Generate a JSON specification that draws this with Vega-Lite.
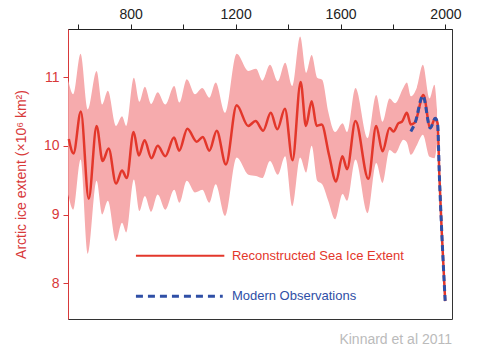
{
  "$schema": "https://vega.github.io/schema/vega-lite/v6.json",
  "autosize": {"type": "none"},
  "width": 384,
  "height": 290,
  "padding": {"left": 68, "top": 29, "right": 38, "bottom": 40},
  "background": "white",
  "config": {
    "view": {"stroke": "#333333", "strokeWidth": 1},
    "font": "Liberation Sans"
  },
  "datasets": {
    "band": [
      {"year": 562, "lo": 9.29, "hi": 10.95},
      {"year": 581, "lo": 9.07, "hi": 10.75},
      {"year": 609, "lo": 9.80, "hi": 11.34},
      {"year": 636, "lo": 8.43, "hi": 10.53},
      {"year": 670, "lo": 9.49, "hi": 11.09},
      {"year": 691, "lo": 9.00, "hi": 10.60},
      {"year": 713, "lo": 9.20, "hi": 10.80},
      {"year": 744, "lo": 8.61, "hi": 10.29},
      {"year": 767, "lo": 8.88, "hi": 10.43},
      {"year": 783, "lo": 8.74, "hi": 10.29},
      {"year": 812, "lo": 9.51, "hi": 10.99},
      {"year": 833, "lo": 9.05, "hi": 10.64},
      {"year": 854, "lo": 9.27, "hi": 10.86},
      {"year": 878, "lo": 9.04, "hi": 10.61},
      {"year": 903, "lo": 9.29, "hi": 10.78},
      {"year": 932, "lo": 9.07, "hi": 10.60},
      {"year": 966, "lo": 9.36, "hi": 10.87},
      {"year": 986, "lo": 9.17, "hi": 10.63},
      {"year": 1014, "lo": 9.49, "hi": 10.97},
      {"year": 1045, "lo": 9.32, "hi": 10.75},
      {"year": 1073, "lo": 9.36, "hi": 10.84},
      {"year": 1100, "lo": 9.17, "hi": 10.70},
      {"year": 1124, "lo": 9.44, "hi": 10.92},
      {"year": 1160, "lo": 8.98, "hi": 10.48},
      {"year": 1204, "lo": 9.83, "hi": 11.34},
      {"year": 1249, "lo": 9.58, "hi": 11.09},
      {"year": 1278, "lo": 9.56, "hi": 11.12},
      {"year": 1302, "lo": 9.53, "hi": 10.95},
      {"year": 1331, "lo": 9.78, "hi": 11.18},
      {"year": 1361, "lo": 9.58, "hi": 10.94},
      {"year": 1389, "lo": 9.85, "hi": 11.21},
      {"year": 1416, "lo": 9.12, "hi": 10.87},
      {"year": 1446, "lo": 9.83, "hi": 11.59},
      {"year": 1469, "lo": 9.61, "hi": 11.06},
      {"year": 1490, "lo": 10.0, "hi": 11.32},
      {"year": 1511, "lo": 9.49, "hi": 10.99},
      {"year": 1530, "lo": 9.44, "hi": 10.96},
      {"year": 1553, "lo": 9.20, "hi": 10.50},
      {"year": 1579, "lo": 8.93, "hi": 10.20},
      {"year": 1608, "lo": 9.30, "hi": 10.33},
      {"year": 1625, "lo": 9.20, "hi": 10.20},
      {"year": 1657, "lo": 9.80, "hi": 10.84},
      {"year": 1703, "lo": 9.02, "hi": 10.11},
      {"year": 1736, "lo": 9.75, "hi": 10.74},
      {"year": 1760, "lo": 9.46, "hi": 10.35},
      {"year": 1787, "lo": 9.94, "hi": 10.69},
      {"year": 1808, "lo": 9.89, "hi": 10.62},
      {"year": 1840, "lo": 10.09, "hi": 10.85},
      {"year": 1853, "lo": 10.05, "hi": 10.92},
      {"year": 1868, "lo": 9.87, "hi": 10.72},
      {"year": 1891, "lo": 10.01, "hi": 10.85},
      {"year": 1914, "lo": 10.16, "hi": 11.18},
      {"year": 1939, "lo": 9.84, "hi": 10.69},
      {"year": 1958, "lo": 9.82, "hi": 10.89},
      {"year": 1968, "lo": 10.04, "hi": 10.52}
    ],
    "recon": [
      {"year": 564, "v": 10.10}, {"year": 582, "v": 9.89}, {"year": 610, "v": 10.50},
      {"year": 640, "v": 9.23}, {"year": 670, "v": 10.29}, {"year": 693, "v": 9.78},
      {"year": 716, "v": 9.96}, {"year": 744, "v": 9.45}, {"year": 767, "v": 9.64},
      {"year": 785, "v": 9.53}, {"year": 811, "v": 10.20}, {"year": 831, "v": 9.86},
      {"year": 853, "v": 10.08}, {"year": 879, "v": 9.82}, {"year": 903, "v": 10.00},
      {"year": 932, "v": 9.85}, {"year": 965, "v": 10.12}, {"year": 985, "v": 9.93},
      {"year": 1016, "v": 10.25}, {"year": 1052, "v": 10.06}, {"year": 1075, "v": 10.13},
      {"year": 1100, "v": 9.93}, {"year": 1128, "v": 10.22}, {"year": 1163, "v": 9.73},
      {"year": 1204, "v": 10.59}, {"year": 1248, "v": 10.29}, {"year": 1276, "v": 10.36},
      {"year": 1305, "v": 10.22}, {"year": 1334, "v": 10.48}, {"year": 1359, "v": 10.24},
      {"year": 1388, "v": 10.54}, {"year": 1417, "v": 9.79}, {"year": 1448, "v": 10.93},
      {"year": 1468, "v": 10.29}, {"year": 1490, "v": 10.65}, {"year": 1509, "v": 10.29},
      {"year": 1528, "v": 10.31}, {"year": 1556, "v": 9.87}, {"year": 1583, "v": 9.48},
      {"year": 1607, "v": 9.85}, {"year": 1625, "v": 9.66}, {"year": 1657, "v": 10.36},
      {"year": 1706, "v": 9.52}, {"year": 1736, "v": 10.29}, {"year": 1760, "v": 9.92},
      {"year": 1787, "v": 10.26}, {"year": 1802, "v": 10.21}, {"year": 1821, "v": 10.33},
      {"year": 1834, "v": 10.35}, {"year": 1853, "v": 10.48}, {"year": 1868, "v": 10.31},
      {"year": 1884, "v": 10.34}, {"year": 1916, "v": 10.74}, {"year": 1942, "v": 10.26},
      {"year": 1961, "v": 10.40}, {"year": 1970, "v": 10.33}, {"year": 1977, "v": 9.55},
      {"year": 1986, "v": 8.74}, {"year": 1999, "v": 7.74}
    ],
    "modern": [
      {"year": 1868, "v": 10.21}, {"year": 1884, "v": 10.33}, {"year": 1914, "v": 10.73},
      {"year": 1942, "v": 10.26}, {"year": 1961, "v": 10.40}, {"year": 1970, "v": 10.33},
      {"year": 1977, "v": 9.55}, {"year": 1986, "v": 8.74}, {"year": 1999, "v": 7.74}
    ],
    "legend": [
      {"x1": 820, "x2": 1157, "tx": 1186, "y": 8.40, "label": "Reconstructed Sea Ice Extent", "kind": "recon", "color": "#e3372b"},
      {"x1": 820, "x2": 1151, "tx": 1186, "y": 7.81, "label": "Modern Observations", "kind": "modern", "color": "#2f4fa6"}
    ],
    "credit": [{"year": 2025, "v": 7.17, "label": "Kinnard et al 2011"}]
  },
  "encoding": {
    "x": {
      "field": "year", "type": "quantitative",
      "scale": {"domain": [561, 2025], "nice": false, "zero": false},
      "axis": {
        "orient": "top", "title": null, "grid": false,
        "values": [600, 800, 1000, 1200, 1400, 1600, 1800, 2000],
        "labelExpr": "datum.value % 400 == 0 ? datum.label : ''",
        "format": "d",
        "domainColor": "#222222", "tickColor": "#222222", "tickSize": 5,
        "labelColor": "#222222", "labelFontSize": 14, "labelPadding": 3,
        "labelFont": "Liberation Sans"
      }
    }
  },
  "layer": [
    {
      "data": {"name": "band"},
      "mark": {"type": "area", "color": "#f6abad", "opacity": 1, "interpolate": "monotone"},
      "encoding": {
        "y": {
          "field": "lo", "type": "quantitative",
          "scale": {"domain": [7.48, 11.7], "nice": false, "zero": false},
          "axis": {
            "orient": "left", "title": "Arctic ice extent (×10⁶ km²)",
            "values": [8, 9, 10, 11], "format": "d", "grid": false,
            "domainColor": "#d8393a", "tickColor": "#d8393a", "tickSize": 5,
            "labelColor": "#d8393a", "labelFontSize": 14, "labelPadding": 4,
            "labelFont": "Liberation Sans",
            "titleColor": "#d8393a", "titleFontSize": 14, "titleFontWeight": "normal",
            "titleFont": "Liberation Sans", "titlePadding": 15
          }
        },
        "y2": {"field": "hi"}
      }
    },
    {
      "data": {"name": "recon"},
      "mark": {"type": "line", "color": "#e3372b", "strokeWidth": 2.5, "interpolate": "monotone"},
      "encoding": {"y": {"field": "v", "type": "quantitative"}}
    },
    {
      "data": {"name": "modern"},
      "mark": {"type": "line", "color": "#2f4fa6", "strokeWidth": 3, "strokeDash": [6, 4], "interpolate": "monotone"},
      "encoding": {"y": {"field": "v", "type": "quantitative"}}
    },
    {
      "data": {"name": "legend"},
      "transform": [{"filter": "datum.kind == 'recon'"}],
      "mark": {"type": "rule", "color": "#e3372b", "strokeWidth": 2},
      "encoding": {
        "x": {"field": "x1", "type": "quantitative"},
        "x2": {"field": "x2"},
        "y": {"field": "y", "type": "quantitative"}
      }
    },
    {
      "data": {"name": "legend"},
      "transform": [{"filter": "datum.kind == 'modern'"}],
      "mark": {"type": "rule", "color": "#2f4fa6", "strokeWidth": 3, "strokeDash": [7, 5]},
      "encoding": {
        "x": {"field": "x1", "type": "quantitative"},
        "x2": {"field": "x2"},
        "y": {"field": "y", "type": "quantitative"}
      }
    },
    {
      "data": {"name": "legend"},
      "mark": {"type": "text", "align": "left", "baseline": "middle", "fontSize": 13, "font": "Liberation Sans"},
      "encoding": {
        "x": {"field": "tx", "type": "quantitative"},
        "y": {"field": "y", "type": "quantitative"},
        "text": {"field": "label"},
        "color": {"field": "color", "type": "nominal", "scale": null}
      }
    },
    {
      "data": {"name": "credit"},
      "mark": {"type": "text", "align": "right", "baseline": "middle", "fontSize": 14, "color": "#bbbbbb", "font": "Liberation Sans"},
      "encoding": {
        "y": {"field": "v", "type": "quantitative"},
        "text": {"field": "label"}
      }
    }
  ]
}
